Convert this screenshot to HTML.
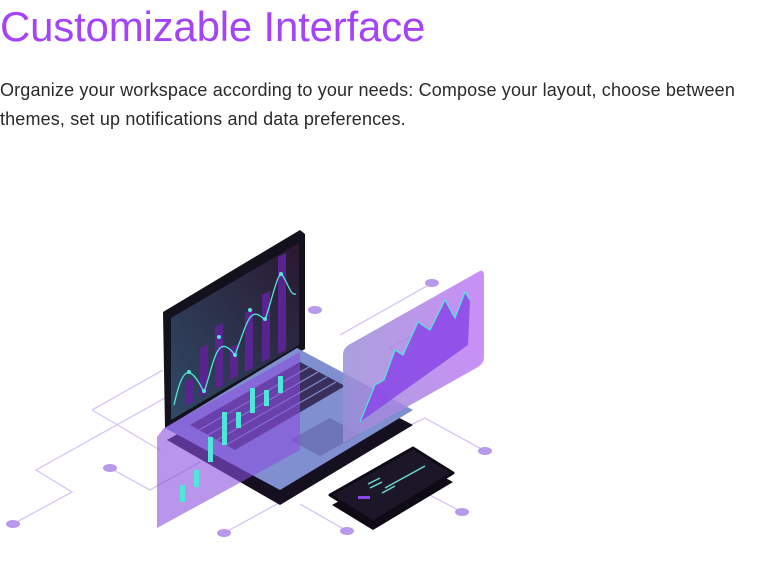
<!DOCTYPE html>
<html><head><meta charset="utf-8"><style>
body{margin:0;width:765px;height:583px;background:#fff;overflow:hidden;font-family:"Liberation Sans",sans-serif;position:relative}
h1{position:absolute;left:0;top:3px;margin:0;font-weight:400;font-size:42px;color:#a443f7;letter-spacing:-0.2px;white-space:nowrap}
p{position:absolute;left:0;top:76px;margin:0;font-size:18px;letter-spacing:0.15px;line-height:29px;color:#2a2a2a;width:745px}
svg{position:absolute;left:0;top:0}
</style></head><body>
<h1>Customizable Interface</h1>
<p>Organize your workspace according to your needs: Compose your layout, choose between themes, set up notifications and data preferences.</p>
<svg width="765" height="583" viewBox="0 0 765 583">
<g stroke="#d7c6f3" stroke-width="1.3" fill="none">
<polyline points="13,524 72,492 36,470 165,398"/>
<polyline points="92,410 163,370"/>
<polyline points="92,410 160,450"/>
<polyline points="110,468 150,490 200,462"/>
<polyline points="224,533 290,497"/>
<polyline points="347,531 300,504"/>
<polyline points="432,283 340,335"/>
<polyline points="462,512 420,490"/>
<polyline points="485,451 425,418 400,430"/>
<polyline points="438,322 390,348 420,370 330,420"/>
</g>
<g fill="#b79ae9">
<ellipse cx="432" cy="283" rx="7" ry="4"/><ellipse cx="315" cy="310" rx="7" ry="4"/>
<ellipse cx="110" cy="468" rx="7" ry="4"/><ellipse cx="13" cy="524" rx="7" ry="4"/>
<ellipse cx="224" cy="533" rx="7" ry="4"/><ellipse cx="347" cy="531" rx="7" ry="4"/>
<ellipse cx="462" cy="512" rx="7" ry="4"/><ellipse cx="485" cy="451" rx="7" ry="4"/>
</g>
<defs>
<linearGradient id="scr" x1="0" y1="1" x2="1" y2="0"><stop offset="0" stop-color="#2f4a66"/><stop offset="1" stop-color="#2a1830"/></linearGradient>
<linearGradient id="rp" x1="0" y1="0" x2="1" y2="0"><stop offset="0" stop-color="#9b8fd6"/><stop offset="1" stop-color="#c07cf5"/></linearGradient>
</defs>
<polygon points="167,440 297,365 413,425 280,505" fill="#15101f"/>
<polygon points="163,312 300,230 305,234 305,349 165,428" fill="#13111c"/>
<polygon points="171,318 299,243 299,345 171,420" fill="url(#scr)"/>
<g fill="#5a2490">
<polygon points="185,382 193,378 193,402 185,406"/><polygon points="200,348 208,344 208,393 200,397"/>
<polygon points="215,327 223,323 223,385 215,389"/><polygon points="230,348 238,344 238,376 230,380"/>
<polygon points="245,313 253,309 253,368 245,372"/><polygon points="262,295 270,291 270,358 262,362"/>
<polygon points="278,257 286,253 286,350 278,354"/>
</g>
<path d="M174,405 C182,370 188,360 204,392 C214,365 216,330 235,355 C248,320 250,305 265,320 C272,300 278,270 282,275 C288,282 290,296 296,294" stroke="#4fe8d8" stroke-width="1.3" fill="none"/>
<g fill="#4fe8d8"><circle cx="189" cy="372" r="2"/><circle cx="204" cy="391" r="2"/><circle cx="219" cy="337" r="2"/><circle cx="235" cy="355" r="2"/><circle cx="250" cy="310" r="2"/><circle cx="265" cy="319" r="2"/><circle cx="281" cy="274" r="2"/></g>
<polygon points="165,428 297,348 413,410 280,490" fill="#7f8fd0"/>
<polygon points="190,425 300,362 345,386 235,450" fill="#3a2f5c"/>
<g stroke="#7f8fd0" stroke-width="1.2">
<line x1="199" y1="430" x2="309" y2="367"/><line x1="208" y1="435" x2="318" y2="372"/><line x1="217" y1="440" x2="327" y2="377"/><line x1="226" y1="445" x2="336" y2="382"/>
</g>
<polygon points="290,440 330,418 360,434 320,456" fill="#6e74b8"/>
<polygon points="157,437 164,428 300,352 300,450 157,528" fill="#8a4ee0" opacity="0.6"/>
<g fill="#4fe8d8">
<rect x="180" y="485" width="5" height="17"/><rect x="194" y="470" width="5" height="17"/>
<rect x="208" y="437" width="5" height="25"/><rect x="222" y="412" width="5" height="33"/>
<rect x="236" y="412" width="5" height="16"/><rect x="250" y="388" width="5" height="25"/>
<rect x="264" y="390" width="5" height="16"/><rect x="278" y="376" width="5" height="17"/>
</g>
<path d="M343,355 Q343,347 352,343 L478,272 Q484,268 484,276 L484,358 Q484,363 478,367 L343,443 Z" fill="url(#rp)" opacity="0.85"/>
<polygon points="360,422 375,385 384,380 395,350 403,355 418,322 430,330 445,300 455,318 465,292 470,300 468,345 360,422" fill="#8a46e8" opacity="0.85"/>
<polyline points="360,422 375,385 384,380 395,350 403,355 418,322 430,330 445,300 455,318 465,292 470,300" stroke="#4fe8d8" stroke-width="1.2" fill="none"/>
<polygon points="332,505 412,460 453,482 373,530" fill="#0f0b16"/>
<polygon points="330,495 413,448 453,473 373,522" fill="#1c1728" stroke="#0f0b16" stroke-width="3" stroke-linejoin="round"/>
<g stroke="#6fd8cc" stroke-width="1.5"><line x1="385" y1="488" x2="425" y2="466"/><line x1="368" y1="484" x2="380" y2="478"/><line x1="370" y1="488" x2="382" y2="482"/><line x1="382" y1="493" x2="395" y2="486"/></g>
<rect x="358" y="496" width="12" height="3" fill="#8a46e8"/>
</svg>
</body></html>
